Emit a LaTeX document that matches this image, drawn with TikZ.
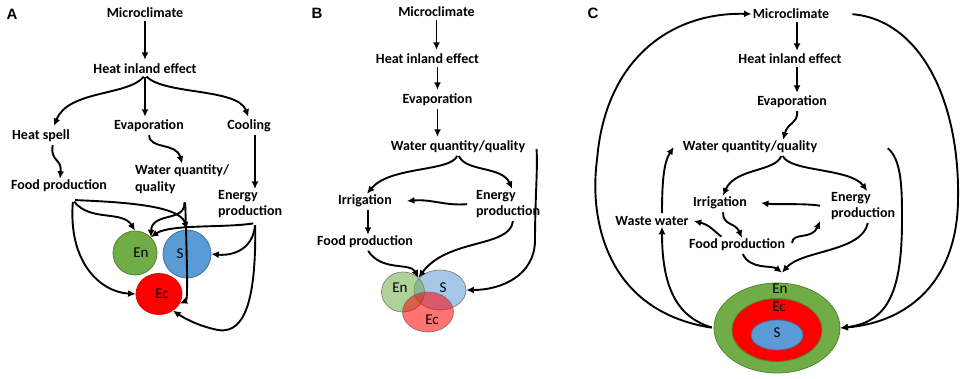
\documentclass[tikz,border=0pt]{standalone}
\usepackage{fontspec}
\setmainfont{Carlito}
\newfontfamily\panelfont{Liberation Sans}
\usetikzlibrary{arrows.meta,shapes.geometric}
\definecolor{encolor}{RGB}{112,173,71}
\definecolor{endraw}{RGB}{84,130,53}
\definecolor{scolor}{RGB}{91,155,213}
\definecolor{sdraw}{RGB}{65,113,156}
\definecolor{eccolor}{RGB}{255,0,0}

\begin{document}
\begin{tikzpicture}[x=1pt, y=-1pt,
  every node/.append style={font=\bfseries\fontsize{14}{16.5}\selectfont, inner sep=1pt},
  flow/.style={-{Latex[length=7.5pt,width=7pt]}, line width=1.9pt, shorten <=2pt},
  panel/.style={font=\panelfont\bfseries\fontsize{15}{18}\selectfont},
  blob/.style={ellipse, inner sep=0pt, line width=0.8pt},
  venn/.style={ellipse, inner sep=0pt, fill opacity=0.55, draw=black!55, line width=0.6pt},
  tag/.style={font=\fontsize{15}{16}\selectfont},
]
\useasboundingbox (0,0) rectangle (963,379);

% ---------- panel A ----------
\node[panel] (labA) at (12,14) {A};
\node (micA) at (145,13) {Microclimate};
\node (heatA) at (145,69) {Heat inland effect};
\node (spellA) at (41,136) {Heat spell};
\node (evapA) at (149,126) {Evaporation};
\node (coolA) at (249,126) {Cooling};
\node (foodA) at (59,186) {Food production};
\node[align=left, anchor=west] (waterA) at (134,179) {Water quantity/\\quality};
\node[align=left, anchor=west] (energyA) at (217,204) {Energy\\production};

% circles
\node[blob, fill=scolor, draw=sdraw, minimum size=48pt, label={[tag, xshift=-7pt]center:S}] (sA) at (187,254) {};
\node[blob, fill=encolor, draw=endraw, minimum size=44pt, label={[tag, xshift=6pt]center:En}] (enA) at (135,253) {};
\node[blob, fill=eccolor, draw=eccolor!85!black, minimum width=46pt, minimum height=41pt, label={[tag, xshift=3pt]center:Ec}] (ecA) at (159,294) {};

% arrows
\draw[flow, shorten >=3pt] (micA.south) -- (heatA.north);
\draw[flow, shorten >=3pt] (heatA.south) .. controls (128,96) and (68,90) .. ([xshift=12pt]spellA.north);
\draw[flow, shorten >=2pt] (heatA.south) -- (heatA.south |- evapA.north);
\draw[flow, shorten >=2pt] (heatA.south) .. controls (165,95) and (238,88) .. (coolA.north);
\draw[flow] ([xshift=12pt]spellA.south) .. controls (50,162) and (62,158) .. ([xshift=1pt]foodA.north);
\draw[flow] (evapA.south) .. controls (150,150) and (176,142) .. (waterA.north);
\draw[flow] ([xshift=6pt]coolA.south) -- ([xshift=6pt]coolA.south |- energyA.north);
\draw[flow] ([shift={(14,14)}]foodA.center) .. controls (90,222) and (122,210) .. (enA.north);
\draw[flow] ([shift={(14,14)}]foodA.center) .. controls (120,202) and (180,205) .. (sA.north);
\draw[flow] ([shift={(14,14)}]foodA.center) .. controls (68,262) and (100,292) .. (ecA.west);
\draw[flow] ([shift={(2,6)}]waterA.south) .. controls (186,222) and (152,212) .. (enA.north east);
\draw[flow] ([shift={(3,6)}]waterA.south) .. controls (187,260) and (188,300) .. (ecA.-25);
\draw[flow] ([shift={(5,4)}]energyA.south) .. controls (225,228) and (170,224) .. (enA.north east);
\draw[flow] ([shift={(5,4)}]energyA.south) .. controls (253,250) and (232,256) .. (sA.east);
\draw[flow] ([shift={(5,4)}]energyA.south) .. controls (256,290) and (248,335) .. (218,330)
  .. controls (198,326) and (184,318) .. (ecA.-50);

% ---------- panel B ----------
\begin{scope}[shift={(310,0)}]
  \node[panel] (labB) at (7,13) {B};
  \node (micB) at (126.5,12) {Microclimate};
  \node (heatB) at (117.5,59) {Heat inland effect};
  \node (evapB) at (127.5,100) {Evaporation};
  \node (waterB) at (148,147) {Water quantity/quality};
  \node (irrB) at (55,201) {Irrigation};
  \node[align=left, anchor=west] (energyB) at (165,204) {Energy\\production};
  \node (foodB) at (55,242) {Food production};

  % overlapping circles
  \node[venn, fill=scolor, minimum width=52pt, minimum height=40pt, label={[tag, xshift=3pt, yshift=2pt]center:S}] (sB) at (130,290) {};
  \node[venn, fill=encolor, minimum width=43pt, minimum height=40pt, label={[tag, xshift=-3pt, yshift=4pt]center:En}] (enB) at (93,292) {};
  \node[venn, fill=eccolor, minimum width=51pt, minimum height=40pt, label={[tag, xshift=4pt, yshift=-8pt]center:Ec}] (ecB) at (118,312) {};

  % arrows
  \draw[flow, shorten >=3pt] (micB.south) -- (micB.south |- heatB.north);
  \draw[flow, shorten >=3pt] (evapB.north |- heatB.south) -- (evapB.north);
  \draw[flow, shorten >=3pt] (evapB.south) -- (evapB.south |- waterB.north);
  \draw[flow] (waterB.south) .. controls (140,172) and (80,166) .. ([xshift=2pt]irrB.north);
  \draw[flow] (waterB.south) .. controls (156,172) and (192,166) .. ([xshift=4pt]energyB.north);
  \draw[flow] ([xshift=10pt]waterB.east) .. controls (228,165) and (225,200) .. (225,240)
    .. controls (225,275) and (192,290) .. (sB.east);
  \draw[flow] ([xshift=-6pt]energyB.west) .. controls (135,206) and (122,199) .. ([xshift=14pt]irrB.east);
  \draw[flow] ([xshift=3pt]irrB.south) -- ([xshift=3pt]irrB.south |- foodB.north);
  \draw[flow] ([xshift=2pt]foodB.south) .. controls (72,272) and (100,262) .. (enB.north east);
  \draw[flow] ([xshift=5pt]energyB.south) .. controls (200,248) and (138,238) .. (enB.north east);
\end{scope}

% ---------- panel C ----------
\begin{scope}[shift={(580,0)}]
  \node[panel] (labC) at (13,13) {C};
  \node (micC) at (211,14) {Microclimate};
  \node (heatC) at (210,59) {Heat inland effect};
  \node (evapC) at (212,102) {Evaporation};
  \node (waterC) at (170,147) {Water quantity/quality};
  \node (irrC) at (140,203) {Irrigation};
  \node[align=left, anchor=west] (energyC) at (250,206) {Energy\\production};
  \node (wasteC) at (72,221) {Waste water};
  \node (foodC) at (157,245) {Food production};

  % nested rings
  \node[blob, fill=encolor, draw=endraw, minimum width=126pt, minimum height=90pt, label={[tag, xshift=3pt, yshift=39pt]center:En}] (enC) at (197,328) {};
  \node[blob, fill=eccolor, draw=endraw, minimum width=90pt, minimum height=63pt, label={[tag, xshift=2pt, yshift=23pt]center:Ec}] (ecC) at (197,330) {};
  \node[blob, fill=scolor, draw=sdraw, minimum width=52pt, minimum height=30pt, label={[tag, yshift=2pt]center:S}] (sC) at (197,335) {};

  % arrows
  \draw[flow, shorten >=2pt] ([xshift=6pt]micC.south) -- ([xshift=6pt]micC.south |- heatC.north);
  \draw[flow, shorten >=2pt] ([xshift=7pt]heatC.south) -- ([xshift=7pt]heatC.south |- evapC.north);
  \draw[flow] ([xshift=5pt]evapC.south) .. controls (218,124) and (208,122) .. ([xshift=33pt]waterC.north);
  \draw[flow] ([xshift=32pt]waterC.south) .. controls (195,172) and (155,168) .. ([xshift=3pt]irrC.north);
  \draw[flow] ([xshift=32pt]waterC.south) .. controls (210,172) and (270,168) .. ([xshift=4pt]energyC.north);
  \draw[flow] (enC.west) .. controls (20,310) and (10,210) .. (17,160)
    .. controls (25,60) and (90,12) .. (micC.west);
  \draw[flow] ([xshift=20pt]micC.east) .. controls (340,20) and (380,100) .. (378,200)
    .. controls (377,280) and (330,322) .. (enC.east);
  \draw[flow] ([xshift=68pt]waterC.east) .. controls (322,160) and (322,190) .. (322,220)
    .. controls (322,292) and (308,322) .. (enC.east);
  \draw[flow] ([xshift=10pt]wasteC.north) .. controls (82,180) and (84,162) .. ([xshift=-8pt]waterC.west);
  \draw[flow] (enC.west) .. controls (100,318) and (82,292) .. ([xshift=10pt]wasteC.south);
  \draw[flow] ([xshift=-8pt]energyC.west) .. controls (222,203) and (200,205) .. ([xshift=13pt]irrC.east);
  \draw[flow] ([xshift=3pt]irrC.south) .. controls (143,226) and (155,222) .. ([xshift=5pt]foodC.north);
  \draw[flow] ([xshift=-14pt]foodC.north) .. controls (135,232) and (130,225) .. ([xshift=4pt]wasteC.east);
  \draw[flow] ([xshift=6pt]foodC.east) .. controls (212,232) and (232,240) .. ([xshift=-10pt]energyC.south west);
  \draw[flow] ([xshift=5pt]energyC.south) .. controls (282,252) and (222,250) .. ([shift={(5,-10)}]enC.north);
  \draw[flow] ([xshift=5pt]foodC.south) .. controls (170,270) and (192,265) .. ([shift={(5,-10)}]enC.north);
\end{scope}

\end{tikzpicture}
\end{document}
